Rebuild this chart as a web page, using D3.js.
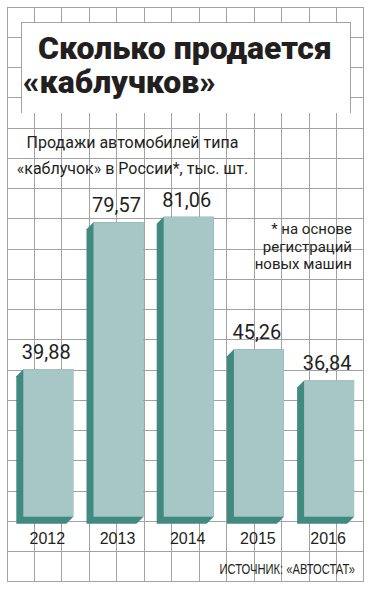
<!DOCTYPE html>
<html>
<head>
<meta charset="utf-8">
<script src="https://cdn.jsdelivr.net/npm/d3@7"></script>
<style>
  body { margin: 0; background: #fff; }
  svg { display: block; }
  text { fill: #231f20; }
</style>
</head>
<body>
<div id="chart"></div>
<script>

// data
var years = ["2012", "2013", "2014", "2015", "2016"];
var sales = [39.88, 79.57, 81.06, 45.26, 36.84];
var valueLabels = ["39,88", "79,57", "81,06", "45,26", "36,84"];
var titleLines = ["Сколько продается", "«каблучков»"];
var subtitleLines = ["Продажи автомобилей типа", "«каблучок» в России*, тыс. шт."];
var noteLines = ["* на основе", "регистраций", "новых машин"];
var sourceText = "ИСТОЧНИК: «АВТОСТАТ»";

var width = 372, height = 598;

var svg = d3.select("#chart").append("svg")
    .attr("width", width)
    .attr("height", height);

//--------------------------------------------------------------------------
// grid paper background
var gridX = d3.range(14).map(function(i) { return 7 + i * 27.46; }),
    gridY = d3.range(20).map(function(i) { return 7 + i * 30.26; });

var grid = svg.append("g").attr("class", "grid")
    .attr("stroke", "#a2a2a2")
    .attr("stroke-width", 1)
    .attr("shape-rendering", "crispEdges");

grid.selectAll("line.v").data(gridX).enter().append("line")
    .attr("class", "v")
    .attr("x1", function(d) { return d; })
    .attr("x2", function(d) { return d; })
    .attr("y1", 7)
    .attr("y2", 582);

grid.selectAll("line.h").data(gridY).enter().append("line")
    .attr("class", "h")
    .attr("x1", 7)
    .attr("x2", 364)
    .attr("y1", function(d) { return d; })
    .attr("y2", function(d) { return d; });

//--------------------------------------------------------------------------
// title box
svg.append("rect")
    .attr("x", 21).attr("y", 22)
    .attr("width", 329).attr("height", 91)
    .attr("fill", "#fff");

svg.append("path")
    .attr("d", "M21,113V22H350V113")
    .attr("fill", "none")
    .attr("stroke", "#a2a2a2")
    .attr("shape-rendering", "crispEdges");

svg.append("text")
    .attr("x", 38).attr("y", 59)
    .style("font-family", "Roboto, sans-serif")
    .style("font-weight", "900")
    .style("font-size", "32px")
    .text(titleLines[0]);

svg.append("text")
    .attr("x", 23).attr("y", 93)
    .style("font-family", "Roboto, sans-serif")
    .style("font-weight", "900")
    .style("font-size", "32px")
    .text(titleLines[1]);

//--------------------------------------------------------------------------
// subtitle and footnote
svg.selectAll("text.sub").data(subtitleLines).enter().append("text")
    .attr("class", "sub")
    .attr("x", 132.5)
    .attr("y", function(d, i) { return 148 + i * 26; })
    .attr("text-anchor", "middle")
    .style("font-family", "Roboto, sans-serif")
    .style("font-size", "16px")
    .text(function(d) { return d; });

svg.selectAll("text.note").data(noteLines).enter().append("text")
    .attr("class", "note")
    .attr("x", 352)
    .attr("y", function(d, i) { return 234 + i * 17.5; })
    .attr("text-anchor", "end")
    .style("font-family", "Roboto, sans-serif")
    .style("font-size", "15px")
    .text(function(d) { return d; });

//--------------------------------------------------------------------------
// bars
var x = d3.scaleBand()
    .domain(years)
    .range([23.3, 354.1])
    .paddingInner(0.288)
    .paddingOuter(0);

var y = d3.scaleLinear()
    .domain([0, 100])
    .range([516.7, 146.7]);

var depth = 7;

var bars = svg.append("g").attr("class", "bars")
    .selectAll("g").data(years).enter().append("g");

// dark side + bottom face
bars.append("path")
    .attr("fill", "#418a80")
    .attr("d", function(d, i) {
      var x0 = x(d), x1 = x(d) + x.bandwidth(),
          y0 = y(sales[i]), y1 = y(0);
      return "M" + x0 + "," + y0 +
        "L" + x1 + "," + y0 +
        "L" + x1 + "," + y1 +
        "L" + (x1 - depth) + "," + (y1 + depth) +
        "L" + (x0 - depth) + "," + (y1 + depth) +
        "L" + (x0 - depth) + "," + (y0 + depth) + "Z";
    });

// front face
bars.append("rect")
    .attr("fill", "#a7c7c6")
    .attr("x", function(d) { return x(d); })
    .attr("y", function(d, i) { return y(sales[i]); })
    .attr("width", x.bandwidth())
    .attr("height", function(d, i) { return y(0) - y(sales[i]); });

bars.append("text")
    .attr("x", function(d) { return x(d) + x.bandwidth() / 2 - 2; })
    .attr("y", function(d, i) { return y(sales[i]) - 10; })
    .attr("text-anchor", "middle")
    .style("font-family", "Roboto, sans-serif")
    .style("font-size", "20px")
    .text(function(d, i) { return valueLabels[i]; });

//--------------------------------------------------------------------------
// year axis
var xAxis = svg.append("g")
    .attr("transform", "translate(0,544)")
    .call(d3.axisBottom(x).tickSize(0).tickPadding(0));

xAxis.select(".domain").remove();
xAxis.selectAll("text")
    .attr("dy", 0)
    .attr("x", -1)
    .style("font-family", "'Liberation Sans', Arial, sans-serif")
    .style("font-size", "16px")
    .style("fill", "#231f20");

// source, squeezed like a condensed face
svg.append("g")
    .attr("transform", "translate(355,574) scale(0.8,1)")
  .append("text")
    .attr("text-anchor", "end")
    .style("font-family", "'Liberation Sans', Arial, sans-serif")
    .style("font-size", "14px")
    .text(sourceText);

</script>
</body>
</html>
